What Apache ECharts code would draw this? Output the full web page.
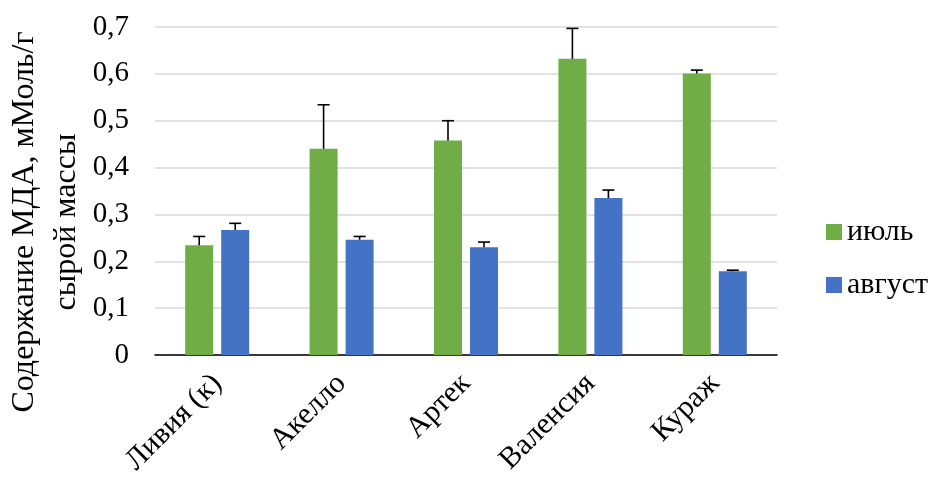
<!DOCTYPE html>
<html><head><meta charset="utf-8">
<script src="https://cdn.jsdelivr.net/npm/echarts@6/dist/echarts.min.js"></script>
<style>html,body{margin:0;padding:0;background:#fff}#c{width:932px;height:485px}</style>
</head><body><div id="c"></div>
<script>
const categories = ['Ливия (к)', 'Акелло', 'Артек', 'Валенсия', 'Кураж'];
const july = [0.234, 0.440, 0.458, 0.632, 0.601];
const julyErr = [0.019, 0.094, 0.042, 0.065, 0.007];
const august = [0.267, 0.246, 0.230, 0.335, 0.179];
const augustErr = [0.014, 0.007, 0.011, 0.017, 0.002];
const seriesNames = ['июль', 'август'];
const yTicks = { min: 0, max: 0.7, interval: 0.1 };

const FONT = '"Liberation Serif", "Times New Roman", serif';
const BAR_W = 28, GAP = 8;

function errSeries(vals, errs, side) {
  return {
    type: 'custom',
    z: 10,
    silent: true,
    data: vals.map((v, i) => [i, v, v + errs[i]]),
    renderItem: function (params, api) {
      const i = api.value(0);
      const base = api.coord([i, api.value(1)]);
      const top = api.coord([i, api.value(2)]);
      const x = base[0] + side * (BAR_W + GAP) / 2;
      const cap = 6;
      const st = { stroke: '#000', lineWidth: 1.6 };
      return {
        type: 'group',
        children: [
          { type: 'line', shape: { x1: x, y1: base[1], x2: x, y2: top[1] }, style: st },
          { type: 'line', shape: { x1: x - cap, y1: top[1], x2: x + cap, y2: top[1] }, style: st }
        ]
      };
    }
  };
}

const chart = echarts.init(document.getElementById('c'));
chart.setOption({
  animation: false,
  textStyle: { fontFamily: FONT },
  grid: { left: 155, right: 155, top: 27, bottom: 130, containLabel: false },
  legend: {
    orient: 'vertical',
    left: 821, top: 212,
    itemWidth: 16, itemHeight: 16, itemGap: 23,
    icon: 'rect',
    textStyle: { fontFamily: FONT, fontSize: 30, color: '#000' },
    data: seriesNames
  },
  graphic: [{
    type: 'text',
    x: 46, y: 222,
    rotation: Math.PI / 2,
    style: {
      text: 'Содержание МДА, мМоль/г\nсырой массы',
      fontFamily: FONT, fontSize: 32, lineHeight: 42,
      align: 'center', verticalAlign: 'middle', fill: '#000'
    }
  }],
  xAxis: {
    type: 'category',
    data: categories,
    axisLine: { lineStyle: { color: '#000', width: 1.5 } },
    axisTick: { show: false },
    axisLabel: { rotate: 45, fontFamily: FONT, fontSize: 30, color: '#000', margin: 24 }
  },
  yAxis: {
    type: 'value',
    min: yTicks.min, max: yTicks.max, interval: yTicks.interval,
    axisLine: { show: false },
    axisTick: { show: false },
    splitLine: { lineStyle: { color: '#d9d9d9', width: 1.5 } },
    axisLabel: {
      fontFamily: FONT, fontSize: 29, color: '#000', margin: 26,
      formatter: v => (Math.round(v * 10) / 10).toString().replace('.', ',')
    }
  },
  series: [
    { name: seriesNames[0], type: 'bar', data: july, barWidth: BAR_W, barGap: (GAP / BAR_W * 100) + '%', itemStyle: { color: '#70AD47' } },
    { name: seriesNames[1], type: 'bar', data: august, barWidth: BAR_W, itemStyle: { color: '#4472C4' } },
    errSeries(july, julyErr, -1),
    errSeries(august, augustErr, 1)
  ]
});
</script></body></html>
